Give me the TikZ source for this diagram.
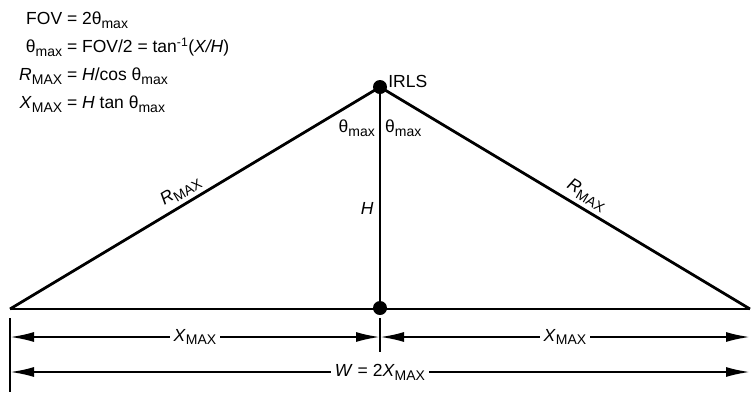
\documentclass[tikz,border=0pt]{standalone}
\usepackage{fontspec}
\usepackage{graphicx}
\setmainfont{Liberation Sans}
\usetikzlibrary{arrows.meta, positioning, calc}

\newcommand{\sbs}[1]{\raisebox{-0.42ex}{\scalebox{0.8}{#1}}}
\newcommand{\tmax}{θ\sbs{max}}
\newcommand{\Rmx}{\textit{R}\sbs{MAX}}
\newcommand{\Xmx}{\textit{X}\sbs{MAX}}

\begin{document}
\begin{tikzpicture}[
  x=1pt, y=-1pt,
  >={Latex[length=24pt, width=10pt]},
  side/.style = {line width=2.8pt},
  dim/.style  = {line width=2.1pt},
  dot/.style  = {circle, fill, inner sep=0pt, minimum size=14pt},
  lbl/.style  = {font=\fontsize{17.5}{21}\selectfont, inner sep=1pt},
  gap/.style  = {lbl, fill=white, inner sep=4pt},
]
  \useasboundingbox (0,0) rectangle (753,392);

%--- formulas ---
  \node[lbl, anchor=north west, inner sep=0pt] (eqs) at (19,5)
    {\fontsize{17.5}{28}\selectfont
     \begin{tabular}{@{}r@{ = }l@{}}
       FOV & 2\tmax\\
       \tmax & FOV/2 = tan\textsuperscript{-1}(\textit{X/H})\\
       \Rmx & \textit{H}/cos \tmax\\
       \Xmx & \textit{H} tan \tmax
     \end{tabular}};

%--- triangle ---
  \node[dot] (irls) at (380,87)  {};
  \node[dot] (base) at (380,308) {};
  \coordinate (lft) at (10,309);
  \coordinate (rgt) at (750,309);

  \node[lbl, right=2pt of irls.north east, anchor=west] (irlsl) {IRLS};

  \draw[side] (lft) -- node[lbl, pos=0.48, sloped, above=3pt] {\Rmx} (irls.center);
  \draw[side] (irls.center) -- node[lbl, pos=0.54, sloped, above=3pt] {\Rmx} (rgt);
  \draw[side] (irls.center) -- node[lbl, pos=0.55, left=4pt] {\textit{H}} (base.center);
  \draw[side] (lft) -- (rgt);

  \node[lbl, anchor=east] (thl) at (376,128) {\tmax};
  \node[lbl, anchor=west] (thr) at (384,128) {\tmax};

%--- dimensions ---
  \coordinate (lt0) at (10,318);
  \coordinate (lt1) at (10,392);
  \coordinate (mt0) at (380,318);
  \coordinate (mt1) at (380,352);
  \draw[dim] (lt0) -- (lt1);
  \draw[dim] (mt0) -- (mt1);

  \coordinate (ra) at (10,337);
  \coordinate (rb) at (380,337);
  \coordinate (rc) at (750,337);
  \coordinate (wa) at (10,372);
  \coordinate (wb) at (750,372);

  \draw[dim, <->] (ra) -- node[gap] {\Xmx} (rb);
  \draw[dim, <->] (rb) -- node[gap] {\Xmx} (rc);
  \draw[dim, <->] (wa) -- node[gap] {\textit{W} = 2\Xmx} (wb);
\end{tikzpicture}
\end{document}
